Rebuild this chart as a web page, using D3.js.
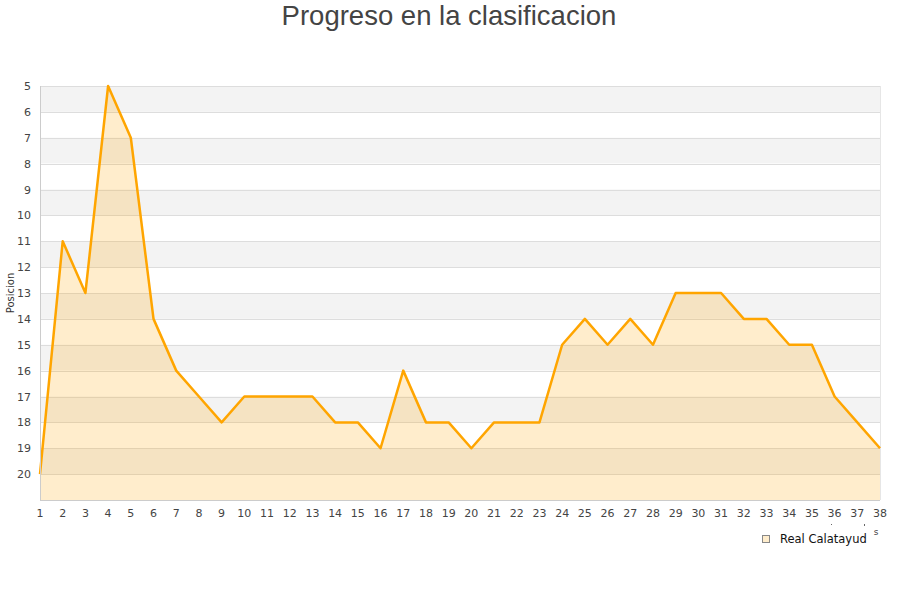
<!DOCTYPE html>
<html><head><meta charset="utf-8">
<script src="https://cdn.jsdelivr.net/npm/d3@7"></script>
<style>body{margin:0;background:#fff}</style>
</head><body>
<svg id="c" width="900" height="600"></svg>
<script>
const jornadas = d3.range(1, 39);
const posiciones = [20,11,13,5,7,14,16,17,18,17,17,17,17,18,18,19,16,18,18,19,18,18,18,15,14,15,14,15,13,13,13,14,14,15,15,17,18,19];
const yTicks = d3.range(5, 21);
const seriesName = "Real Calatayud";
const titleText = "Progreso en la clasificacion";
const yTitle = "Posicion";

const svg = d3.select("#c");
const m = {l:40, r:880, t:86, b:500};
const x = d3.scaleLinear().domain([1,38]).range([m.l, m.r]);
const y = d3.scaleLinear().domain([5,21]).range([m.t, m.b]);

// bands
const bands = d3.range(5, 21);
svg.append("g").selectAll("rect").data(bands).join("rect")
  .attr("x", m.l).attr("width", m.r - m.l)
  .attr("y", d => y(d)).attr("height", d => y(d+1) - y(d))
  .attr("fill", d => (d - 5) % 2 === 0 ? "#f3f3f3" : "#ffffff");

// gridlines
svg.append("g").selectAll("line").data(d3.range(5, 21)).join("line")
  .attr("x1", m.l).attr("x2", m.r)
  .attr("y1", d => Math.round(y(d)) + 0.5).attr("y2", d => Math.round(y(d)) + 0.5)
  .attr("stroke", "#dddddd").attr("stroke-width", 1);

// border
svg.append("line").attr("x1", m.r+0.5).attr("x2", m.r+0.5).attr("y1", m.t).attr("y2", m.b).attr("stroke", "#e6e6e6");

const data = jornadas.map((j,i) => ({j, p: posiciones[i]}));
svg.append("path").datum(data)
  .attr("d", d3.area().x(d => x(d.j)).y0(y(21)).y1(d => y(d.p)))
  .attr("fill", "rgba(255,165,0,0.2)");
svg.append("path").datum(data)
  .attr("d", d3.line().x(d => x(d.j)).y(d => y(d.p)))
  .attr("fill", "none").attr("stroke", "#ffa500").attr("stroke-width", 2.5).attr("stroke-linejoin", "round");

// axes lines
svg.append("line").attr("x1", m.l+0.5).attr("x2", m.l+0.5).attr("y1", m.t).attr("y2", m.b).attr("stroke", "#cccccc");
svg.append("line").attr("x1", m.l).attr("x2", m.r).attr("y1", m.b+0.5).attr("y2", m.b+0.5).attr("stroke", "#cccccc");

// y labels
svg.append("g").selectAll("text").data(yTicks).join("text")
  .attr("x", 31).attr("y", d => y(d) + 4)
  .attr("text-anchor", "end")
  .attr("font-family", "DejaVu Sans").attr("font-size", 11).attr("fill", "#444")
  .text(d => d);

// x labels
svg.append("g").selectAll("text").data(jornadas).join("text")
  .attr("x", d => x(d)).attr("y", 517)
  .attr("text-anchor", "middle")
  .attr("font-family", "DejaVu Sans").attr("font-size", 11).attr("fill", "#444")
  .text(d => d);

// y title
svg.append("text").attr("transform", "translate(14,293) rotate(-90)")
  .attr("text-anchor", "middle").attr("font-family", "DejaVu Sans").attr("font-size", 10).attr("fill", "#333")
  .text(yTitle);

// title
svg.append("text").attr("x", 449).attr("y", 25).attr("text-anchor", "middle")
  .attr("font-family", "Liberation Sans, Arial").attr("font-size", 27.5).attr("fill", "#444")
  .text(titleText);

// stray x-axis title fragment
svg.append("text").attr("x", 876).attr("y", 535).attr("text-anchor", "middle")
  .attr("font-family", "DejaVu Sans").attr("font-size", 9).attr("fill", "#444").text("s");
svg.append("rect").attr("x", 831).attr("y", 524).attr("width", 1).attr("height", 1).attr("fill", "#666");
svg.append("rect").attr("x", 864).attr("y", 524).attr("width", 1).attr("height", 2).attr("fill", "#666");

// legend
svg.append("rect").attr("x", 762.5).attr("y", 535.5).attr("width", 7).attr("height", 7)
  .attr("fill", "#ffedcc").attr("stroke", "#888").attr("stroke-width", 1);
svg.append("text").attr("x", 780).attr("y", 543)
  .attr("font-family", "DejaVu Sans").attr("font-size", 11.5).attr("fill", "#111").text(seriesName);
</script>
</body></html>
